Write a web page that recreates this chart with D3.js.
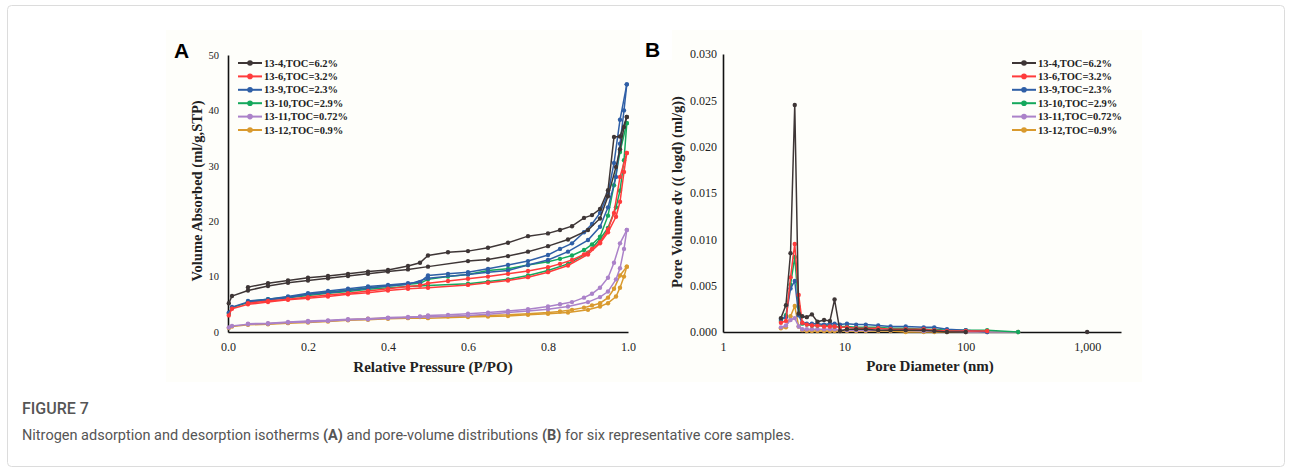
<!DOCTYPE html>
<meta charset="utf-8">
<script src="https://d3js.org/d3.v7.min.js"></script>
<style>
    body { margin: 0; background: #fff; }
    svg text { font-family: "Liberation Serif", "Times New Roman", serif; }
    svg text.panel { font-family: "Liberation Sans", Arial, sans-serif; }
    .tick text { fill: #222; }
    svg text.caption { font-family: Roboto, "Open Sans", sans-serif; fill: #555; }
</style>
<body>
<svg width="1292" height="473" class="fig"></svg>
</body>
<script>
    // sample names, colours
    const samples = ['13-4,TOC=6.2%', '13-6,TOC=3.2%', '13-9,TOC=2.3%', '13-10,TOC=2.9%', '13-11,TOC=0.72%', '13-12,TOC=0.9%'];
    const colors = ['#3e3636', '#ff3b3b', '#2f5fa6', '#14a85c', '#ab82c9', '#d99a2e'];

    // (A) isotherms: relative pressure points of each branch
    const adsP = [0.002, 0.01, 0.05, 0.1, 0.15, 0.2, 0.25, 0.3, 0.35, 0.4, 0.45, 0.5, 0.6, 0.65, 0.7, 0.75, 0.8, 0.85, 0.9, 0.93, 0.95, 0.97, 0.98, 0.99, 0.997];
    const desP = [0.997, 0.98, 0.965, 0.95, 0.93, 0.91, 0.89, 0.86, 0.83, 0.8, 0.75, 0.7, 0.65, 0.6, 0.55, 0.5, 0.48, 0.45, 0.4, 0.35, 0.3, 0.25, 0.2, 0.15, 0.1, 0.05];

    // adsorbed volume (ml/g,STP), adsorption branch
    const ads134 = [5.2, 6.5, 7.5, 8.3, 8.9, 9.3, 9.7, 10.1, 10.5, 10.9, 11.3, 11.8, 12.8, 13.1, 13.7, 14.5, 15.5, 16.7, 18.4, 20.5, 24.5, 29.8, 33.0, 37.0, 38.8];
    const ads136 = [3.0, 4.2, 5.0, 5.4, 5.8, 6.1, 6.4, 6.8, 7.1, 7.5, 7.8, 8.0, 8.5, 8.9, 9.3, 9.9, 10.8, 12.0, 14.0, 16.0, 18.0, 20.8, 23.5, 28.9, 32.3];
    const ads139 = [3.5, 4.5, 5.4, 5.8, 6.2, 6.8, 7.1, 7.5, 7.9, 8.3, 8.6, 9.7, 10.4, 10.8, 11.1, 12.1, 13.0, 14.5, 16.6, 19.0, 22.5, 28.0, 34.0, 40.0, 44.7];
    const ads1310 = [3.3, 4.4, 5.3, 5.8, 6.2, 6.6, 7.0, 7.3, 7.7, 8.0, 8.2, 8.4, 8.7, 9.1, 9.5, 10.2, 11.1, 12.3, 14.3, 16.8, 18.8, 22.5, 25.5, 31.0, 37.7];
    const ads1311 = [0.8, 1.1, 1.4, 1.5, 1.7, 1.8, 2.0, 2.2, 2.3, 2.5, 2.6, 2.7, 3.0, 3.2, 3.5, 3.8, 4.1, 4.6, 5.4, 6.3, 7.3, 9.5, 11.5, 15.0, 18.4];
    const ads1312 = [0.7, 1.0, 1.3, 1.4, 1.6, 1.7, 1.9, 2.1, 2.2, 2.4, 2.5, 2.5, 2.7, 2.8, 2.9, 3.1, 3.3, 3.5, 4.0, 4.6, 5.2, 6.4, 8.0, 10.0, 11.8];

    // adsorbed volume (ml/g,STP), desorption branch
    const des134 = [38.8, 35.3, 35.2, 25.6, 22.2, 21.1, 20.6, 19.1, 18.4, 17.8, 17.3, 16.1, 15.2, 14.6, 14.4, 13.8, 12.5, 11.9, 11.2, 10.9, 10.5, 10.1, 9.8, 9.3, 8.8, 8.1];
    const des136 = [32.3, 28.0, 21.5, 18.5, 16.2, 15.0, 14.0, 13.0, 12.3, 11.7, 11.0, 10.5, 10.0, 9.6, 9.2, 8.8, 8.4, 8.2, 7.8, 7.4, 7.0, 6.7, 6.3, 5.9, 5.6, 5.2];
    const des139 = [44.7, 38.3, 30.5, 25.0, 21.5, 19.5, 18.0, 16.0, 15.0, 13.9, 12.8, 12.1, 11.4, 10.8, 10.5, 10.2, 9.0, 8.8, 8.5, 8.2, 7.8, 7.4, 7.0, 6.4, 5.9, 5.6];
    const des1310 = [37.7, 32.5, 26.5, 21.0, 17.2, 15.8, 14.8, 13.8, 13.2, 12.7, 12.1, 11.4, 11.1, 10.4, 10.0, 9.5, 8.8, 8.6, 8.3, 8.0, 7.6, 7.2, 6.8, 6.3, 5.9, 5.5];
    const des1311 = [18.4, 16.0, 12.5, 9.8, 8.0, 6.9, 6.2, 5.4, 5.0, 4.6, 4.1, 3.8, 3.5, 3.3, 3.1, 3.0, 2.8, 2.7, 2.6, 2.4, 2.3, 2.1, 2.0, 1.8, 1.6, 1.5];
    const des1312 = [11.8, 10.2, 7.8, 6.2, 5.2, 4.8, 4.4, 4.0, 3.7, 3.5, 3.3, 3.1, 3.0, 2.9, 2.8, 2.9, 2.7, 2.6, 2.5, 2.4, 2.2, 2.0, 1.9, 1.7, 1.5, 1.4];

    // (B) pore-volume distribution: pore diameters (nm)
    const poreD = [3.0, 3.3, 3.6, 3.9, 4.2, 4.5, 4.9, 5.4, 6.0, 6.8, 7.6, 8.3, 9.2, 10.5, 12.5, 15, 19, 24, 32, 45, 55, 70, 100, 150, 270, 1000];
    const pv134 = [0.0015, 0.0029, 0.0085, 0.0245, 0.0020, 0.0017, 0.0016, 0.0019, 0.0011, 0.0013, 0.0012, 0.0035, 0.0001, 0.0003, 0.0003, 0.0003, 0.0002, 0.0002, 0.0002, 0.0002, 0.0001, 0.0000, 0.0000, null, null, 0.0000];
    const pv136 = [0.0010, 0.0012, 0.0059, 0.0095, 0.0040, 0.0010, 0.0008, 0.0007, 0.0007, 0.0006, 0.0006, 0.0006, 0.0005, 0.0005, 0.0004, 0.0004, 0.0004, 0.0003, 0.0003, 0.0003, 0.0002, 0.0001, 0.0001, 0.0001, null, null];
    const pv139 = [0.0014, 0.0016, 0.0047, 0.0055, 0.0018, 0.0010, 0.0009, 0.0009, 0.0009, 0.0008, 0.0009, 0.0009, 0.0008, 0.0009, 0.0008, 0.0008, 0.0007, 0.0006, 0.0006, 0.0005, 0.0005, 0.0003, 0.0002, 0.0000, null, null];
    const pv1310 = [0.0012, 0.0018, 0.0051, 0.0081, 0.0027, 0.0009, 0.0008, 0.0007, 0.0007, 0.0007, 0.0007, 0.0006, 0.0006, 0.0006, 0.0005, 0.0005, 0.0005, 0.0004, 0.0004, 0.0003, 0.0003, 0.0002, 0.0002, 0.0002, 0.0000, null];
    const pv1311 = [0.0005, 0.0007, 0.0013, 0.0015, 0.0006, 0.0003, 0.0003, 0.0003, 0.0003, 0.0003, 0.0003, 0.0003, 0.0002, 0.0002, 0.0002, 0.0002, 0.0002, 0.0002, 0.0002, 0.0001, 0.0001, 0.0001, 0.0000, 0.0000, 0.0000, null];
    const pv1312 = [0.0004, 0.0005, 0.0017, 0.0028, 0.0006, 0.0002, 0.0001, 0.0001, 0.0001, 0.0001, 0.0001, 0.0001, 0.0001, 0.0001, 0.0001, 0.0001, 0.0001, 0.0001, 0.0000, 0.0000, 0.0000, 0.0000, 0.0000, 0.0000, 0.0000, null];

    const yTicksA = [0, 10, 20, 30, 40, 50];
    const xTicksA = [0, 0.2, 0.4, 0.6, 0.8, 1.0];
    const yTicksB = [0, 0.005, 0.01, 0.015, 0.02, 0.025, 0.03];
    const xTicksB = [1, 10, 100, 1000];

    const adsList = [ads134, ads136, ads139, ads1310, ads1311, ads1312];
    const desList = [des134, des136, des139, des1310, des1311, des1312];
    const pvList = [pv134, pv136, pv139, pv1310, pv1311, pv1312];

    const svg = d3.select('.fig');

    // frame around the figure
    svg.append('rect')
        .attr('x', 7.5).attr('y', 5.5)
        .attr('width', 1277).attr('height', 461)
        .attr('rx', 4)
        .attr('fill', 'none')
        .attr('stroke', '#dcdcdc');

    // the chart image has a very faint cream tone
    svg.append('rect')
        .attr('x', 166).attr('y', 30)
        .attr('width', 976).attr('height', 352)
        .attr('fill', '#fefefa');

    // ---------- panel A ----------
    const xA = d3.scaleLinear().domain([0, 1]).range([228, 628]);
    const yA = d3.scaleLinear().domain([0, 50]).range([332, 55]);

    const gA = svg.append('g');

    gA.append('g')
        .attr('transform', 'translate(0,' + 332 + ')')
        .call(d3.axisBottom(xA).tickValues(xTicksA).tickFormat(d3.format('.1f')).tickSize(0).tickPadding(10))
        .call(g => g.select('.domain').attr('stroke', '#111').attr('stroke-width', 1.6))
        .selectAll('text').attr('font-size', 12);

    gA.append('g')
        .attr('transform', 'translate(228,0)')
        .call(d3.axisLeft(yA).tickValues(yTicksA).tickSize(0).tickPadding(9))
        .call(g => g.select('.domain').attr('stroke', '#111').attr('stroke-width', 1.6))
        .selectAll('text').attr('font-size', 10.5);

    const lineA = d3.line().x(d => xA(d[0])).y(d => yA(d[1]));

    for (let i = samples.length - 1; i >= 0; i--) {
        const branches = [
            adsP.map((p, j) => [p, adsList[i][j]]),
            desP.map((p, j) => [p, desList[i][j]]),
        ];
        branches.forEach(b => {
            gA.append('path')
                .datum(b)
                .attr('d', lineA)
                .attr('fill', 'none')
                .attr('stroke', colors[i])
                .attr('stroke-width', 1.5);
            gA.selectAll(null)
                .data(b)
                .enter()
                .append('circle')
                .attr('cx', d => xA(d[0]))
                .attr('cy', d => yA(d[1]))
                .attr('r', 2.2)
                .attr('fill', colors[i]);
        });
    }

    gA.append('text')
        .attr('x', 433).attr('y', 372)
        .attr('text-anchor', 'middle')
        .attr('font-size', 15).attr('font-weight', 'bold')
        .attr('fill', '#222')
        .text('Relative Pressure (P/PO)');

    gA.append('text')
        .attr('transform', 'translate(202,191) rotate(-90)')
        .attr('text-anchor', 'middle')
        .attr('font-size', 14.5).attr('font-weight', 'bold')
        .attr('fill', '#222')
        .text('Volume Absorbed (ml/g,STP)');

    gA.append('text')
        .attr('class', 'panel')
        .attr('x', 174).attr('y', 58)
        .attr('font-size', 21).attr('font-weight', 'bold')
        .attr('fill', '#000')
        .text('A');

    // ---------- panel B ----------
    const xB = d3.scaleLog().domain([1, 1900]).range([723, 1121]);
    const yB = d3.scaleLinear().domain([0, 0.03]).range([332, 54]);

    const gB = svg.append('g');

    gB.append('g')
        .attr('transform', 'translate(0,' + 332 + ')')
        .call(d3.axisBottom(xB).tickValues(xTicksB).tickFormat(d3.format(',')).tickSize(0).tickPadding(10))
        .call(g => g.select('.domain').attr('stroke', '#111').attr('stroke-width', 1.6))
        .selectAll('text').attr('font-size', 12);

    gB.append('g')
        .attr('transform', 'translate(723,0)')
        .call(d3.axisLeft(yB).tickValues(yTicksB).tickFormat(d3.format('.3f')).tickSize(0).tickPadding(6))
        .call(g => g.select('.domain').attr('stroke', '#111').attr('stroke-width', 1.6))
        .selectAll('text').attr('font-size', 12);

    const lineB = d3.line()
        .defined(d => d[1] !== null)
        .x(d => xB(d[0]))
        .y(d => yB(d[1]));

    for (let i = samples.length - 1; i >= 0; i--) {
        const pts = poreD.map((p, j) => [p, pvList[i][j]]);
        gB.append('path')
            .datum(pts)
            .attr('d', lineB)
            .attr('fill', 'none')
            .attr('stroke', colors[i])
            .attr('stroke-width', 1.5);
        gB.selectAll(null)
            .data(pts.filter(d => d[1] !== null))
            .enter()
            .append('circle')
            .attr('cx', d => xB(d[0]))
            .attr('cy', d => yB(d[1]))
            .attr('r', 2.2)
            .attr('fill', colors[i]);
    }

    gB.append('text')
        .attr('x', 930).attr('y', 371)
        .attr('text-anchor', 'middle')
        .attr('font-size', 15).attr('font-weight', 'bold')
        .attr('fill', '#222')
        .text('Pore Diameter (nm)');

    gB.append('text')
        .attr('transform', 'translate(682,192) rotate(-90)')
        .attr('text-anchor', 'middle')
        .attr('font-size', 14.5).attr('font-weight', 'bold')
        .attr('fill', '#222')
        .text('Pore Volume dv (( logd)  (ml/g))');

    gB.append('rect')
        .attr('x', 640).attr('y', 30)
        .attr('width', 32).attr('height', 30)
        .attr('fill', '#fff');

    gB.append('text')
        .attr('class', 'panel')
        .attr('x', 645).attr('y', 57)
        .attr('font-size', 21).attr('font-weight', 'bold')
        .attr('fill', '#000')
        .text('B');

    // ---------- legends ----------
    function legend(x0, y0) {
        const lg = svg.append('g').attr('transform', 'translate(' + x0 + ',' + y0 + ')');
        samples.forEach((s, i) => {
            const row = lg.append('g').attr('transform', 'translate(0,' + i * 13.4 + ')');
            row.append('line')
                .attr('x1', 0).attr('x2', 24)
                .attr('stroke', colors[i]).attr('stroke-width', 2);
            row.append('circle')
                .attr('cx', 12).attr('r', 2.8)
                .attr('fill', colors[i]);
            row.append('text')
                .attr('x', 26).attr('dy', '0.35em')
                .attr('font-size', 10.5).attr('font-weight', 'bold')
                .attr('fill', '#222')
                .text(s);
        });
    }
    legend(238, 63);
    legend(1012, 63);

    // ---------- caption ----------
    svg.append('text')
        .attr('class', 'caption')
        .attr('x', 22).attr('y', 414)
        .attr('font-size', 16).attr('font-weight', 500)
        .text('FIGURE 7');

    const cap = svg.append('text')
        .attr('class', 'caption')
        .attr('x', 22).attr('y', 440)
        .attr('font-size', 14.5);
    cap.append('tspan').text('Nitrogen adsorption and desorption isotherms ');
    cap.append('tspan').attr('font-weight', 'bold').text('(A)');
    cap.append('tspan').text(' and pore-volume distributions ');
    cap.append('tspan').attr('font-weight', 'bold').text('(B)');
    cap.append('tspan').text(' for six representative core samples.');
</script>
